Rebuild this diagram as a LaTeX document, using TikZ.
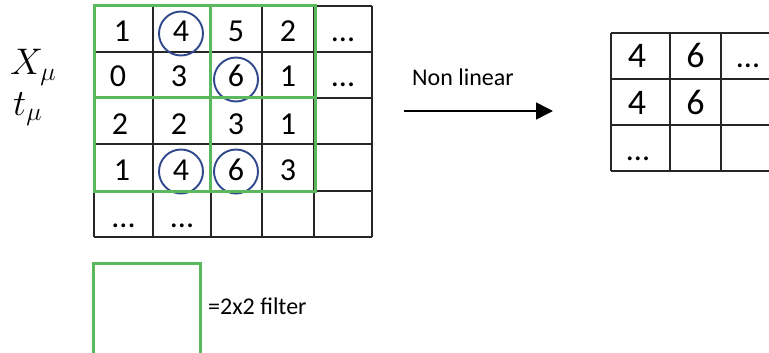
\RequirePackage{fix-cm}
\documentclass[tikz,border=0pt]{standalone}
\usepackage{fontspec}
\setmainfont{Carlito}
\usetikzlibrary{arrows.meta}
\definecolor{fgreen}{RGB}{92,184,92}
\definecolor{cblue}{RGB}{47,72,140}
\begin{document}
\begin{tikzpicture}[x=1pt,y=-1pt,
  gridline/.style={line width=1.6pt, black!85},
  filt/.style={line width=3pt, fgreen},
  cell/.style={anchor=base, inner sep=0pt, font=\fontsize{32}{36}\selectfont},
  bigcell/.style={anchor=base, inner sep=0pt, font=\fontsize{36}{40}\selectfont},
  ring/.style={draw=cblue, line width=1.9pt, circle, minimum size=44pt, inner sep=0pt},
  lbl/.style={anchor=base west, inner sep=0pt, font=\fontsize{24}{28}\selectfont},
  mathlbl/.style={anchor=base west, inner sep=0pt, font=\fontsize{37}{40}\selectfont}]
\useasboundingbox (0,0) rectangle (769,353);

% left grid
\foreach \x in {94,153,211,262,314,372} \draw[gridline] (\x,6)--(\x,237);
\foreach \y in {6,52,98,144,191,237} \draw[gridline] (94,\y)--(372,\y);

% rings
\node[ring] (r1) at (181,33.5) {};
\node[ring] (r2) at (236,79.5) {};
\node[ring] (r3) at (181,171.5) {};
\node[ring] (r4) at (236,171.5) {};

% left cell texts
\node[cell] (a1-1) at (122,42) {1};
\node[cell] (a1-2) at (181,42) {4};
\node[cell] (a1-3) at (236,42) {5};
\node[cell] (a1-4) at (288,42) {2};
\node[cell] (a1-5) at (343,42) {...};
\node[cell] (a2-1) at (118,87) {0};
\node[cell] (a2-2) at (179,87) {3};
\node[cell] (a2-3) at (236,87) {6};
\node[cell] (a2-4) at (288,87) {1};
\node[cell] (a2-5) at (343,87) {...};
\node[cell] (a3-1) at (120,134) {2};
\node[cell] (a3-2) at (179,134) {2};
\node[cell] (a3-3) at (236,134) {3};
\node[cell] (a3-4) at (288,134) {1};
\node[cell] (a4-1) at (122,180) {1};
\node[cell] (a4-2) at (181,180) {4};
\node[cell] (a4-3) at (236,180) {6};
\node[cell] (a4-4) at (288,180) {3};
\node[cell] (a5-1) at (123.5,227) {...};
\node[cell] (a5-2) at (182,227) {...};

% green filters
\draw[filt] (94,6) rectangle (210,98);
\draw[filt] (210,6) rectangle (315,98);
\draw[filt] (94,98) rectangle (210,191);
\draw[filt] (210,98) rectangle (315,191);

% labels X_mu, t_mu
\node[mathlbl] (xmu) at (10,75) {$X_\mu$};
\node[mathlbl] (tmu) at (13,115) {$t_\mu$};

% arrow
\coordinate (s) at (404,111);
\coordinate (e) at (553,111);
\draw[line width=1.5pt, -{Triangle[length=17pt,width=17pt]}] (s)--(e);
\node[lbl] (nl) at (412,85) {Non linear};

% right grid
\foreach \x in {611,670,721} \draw[gridline] (\x,33)--(\x,171);
\foreach \y in {33,79,125,171} \draw[gridline] (611,\y)--(769,\y);
\node[bigcell] (b1-1) at (637,68) {4};
\node[bigcell] (b1-2) at (695.5,68) {6};
\node[cell] (b1-3) at (748,68) {...};
\node[bigcell] (b2-1) at (637,114) {4};
\node[bigcell] (b2-2) at (695.5,114) {6};
\node[cell] (b3-1) at (638,160) {...};

% legend
\draw[filt] (93,356)--(93,263)--(200,263)--(200,356);
\node[lbl] (leg) at (208,314) {=2x2 filter};
\end{tikzpicture}
\end{document}
